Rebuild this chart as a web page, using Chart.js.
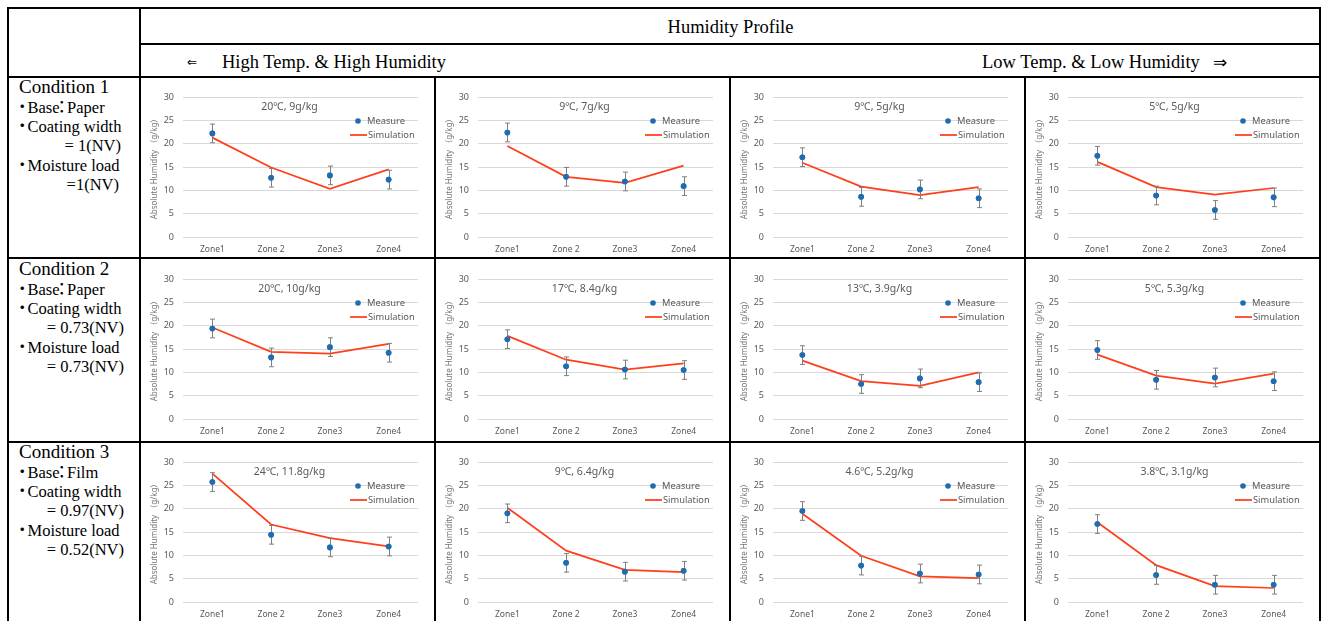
<!DOCTYPE html>
<html>
<head>
<meta charset="utf-8">
<script src="https://cdn.jsdelivr.net/npm/chart.js@4.4.1/dist/chart.umd.min.js"></script>
<style>
  body { margin: 0; background: #fff; width: 1321px; height: 621px; overflow: hidden; position: relative;
         font-family: "Liberation Serif", "Times New Roman", "Noto Sans CJK JP", serif; color: #000; }
  .ln { position: absolute; background: #000; z-index: 5; }
  .cell { position: absolute; }
  .hdr { position: absolute; font-size: 18.5px; white-space: pre; }
  .cond { position: absolute; left: 19px; width: 105px; }
  .cond div { height: 19.6px; line-height: 19.6px; font-size: 16.5px; white-space: pre; }
  .cond .c1 { font-size: 19px; }
  .cond .eq { text-align: right; }
  .dot { display: inline-block; margin: 0 -3px 0 -5px; font-family: "Noto Sans CJK JP", sans-serif; }
  .col { display: inline-block; margin: 0 -3px 0 -6px; font-family: "Noto Sans CJK JP", sans-serif; }
</style>
</head>
<body>

<!-- table rules -->
<div class="ln" style="left:7px;top:7px;width:1314px;height:2px"></div>
<div class="ln" style="left:140px;top:43px;width:1181px;height:2px"></div>
<div class="ln" style="left:7px;top:76px;width:1314px;height:2px"></div>
<div class="ln" style="left:7px;top:257px;width:1314px;height:2px"></div>
<div class="ln" style="left:7px;top:441px;width:1314px;height:2px"></div>
<div class="ln" style="left:7px;top:7px;width:2px;height:614px"></div>
<div class="ln" style="left:139px;top:7px;width:2px;height:614px"></div>
<div class="ln" style="left:434px;top:77px;width:2px;height:544px"></div>
<div class="ln" style="left:729px;top:77px;width:2px;height:544px"></div>
<div class="ln" style="left:1024px;top:77px;width:2px;height:544px"></div>
<div class="ln" style="left:1319px;top:7px;width:2px;height:614px"></div>

<!-- header -->
<div class="hdr" style="left:140px;width:1181px;top:9px;line-height:36px;text-align:center">Humidity Profile</div>
<div class="hdr" style="left:187px;top:52px;font-size:12px;line-height:20px;font-family:'DejaVu Sans',sans-serif">⇐</div>
<div class="hdr" style="left:222px;top:51px;line-height:22px">High Temp. &amp; High Humidity</div>
<div class="hdr" style="left:982px;top:51px;line-height:22px">Low Temp. &amp; Low Humidity</div>
<div class="hdr" style="left:1213px;top:51px;line-height:22px;font-family:'DejaVu Sans',sans-serif;font-size:17px">⇒</div>

<!-- condition descriptions -->
<div class="cond" style="top:77px">
  <div class="c1">Condition 1</div>
  <div><span class="dot">・</span>Base<span class="col">：</span>Paper</div>
  <div><span class="dot">・</span>Coating width</div>
  <div class="eq" style="padding-right:3px">= 1(NV)</div>
  <div><span class="dot">・</span>Moisture load</div>
  <div class="eq" style="padding-right:5px">=1(NV)</div>
</div>
<div class="cond" style="top:259px">
  <div class="c1">Condition 2</div>
  <div><span class="dot">・</span>Base<span class="col">：</span>Paper</div>
  <div><span class="dot">・</span>Coating width</div>
  <div class="eq">= 0.73(NV)</div>
  <div><span class="dot">・</span>Moisture load</div>
  <div class="eq">= 0.73(NV)</div>
</div>
<div class="cond" style="top:442px">
  <div class="c1">Condition 3</div>
  <div><span class="dot">・</span>Base<span class="col">：</span>Film</div>
  <div><span class="dot">・</span>Coating width</div>
  <div class="eq">= 0.97(NV)</div>
  <div><span class="dot">・</span>Moisture load</div>
  <div class="eq">= 0.52(NV)</div>
</div>

<script>
const zones = ["Zone1", "Zone 2", "Zone3", "Zone4"];
const yTicks = [0, 5, 10, 15, 20, 25, 30];
const errorHalf = [2, 2, 2, 2];

// Condition 1 : paper, width 1(NV), load 1(NV)
const c1Labels = ["20℃, 9g/kg", "9℃, 7g/kg", "9℃, 5g/kg", "5℃, 5g/kg"];
const c1Measure = [
  [22.2, 12.7, 13.2, 12.3],
  [22.4, 12.9, 11.9, 10.9],
  [17.1, 8.6, 10.2, 8.3],
  [17.4, 8.9, 5.8, 8.5]
];
const c1Sim = [
  [21.3, 14.9, 10.3, 14.5],
  [19.5, 12.9, 11.6, 15.3],
  [15.9, 10.8, 9.0, 10.7],
  [16.1, 10.7, 9.1, 10.5]
];

// Condition 2 : paper, width 0.73(NV), load 0.73(NV)
const c2Labels = ["20℃, 10g/kg", "17℃, 8.4g/kg", "13℃, 3.9g/kg", "5℃, 5.3g/kg"];
const c2Measure = [
  [19.4, 13.2, 15.4, 14.2],
  [17.1, 11.3, 10.6, 10.5],
  [13.7, 7.5, 8.7, 7.9],
  [14.8, 8.4, 8.9, 8.1]
];
const c2Sim = [
  [19.6, 14.4, 14.0, 16.1],
  [17.8, 12.7, 10.6, 11.9],
  [12.5, 8.1, 7.1, 10.0],
  [13.8, 9.3, 7.6, 9.7]
];

// Condition 3 : film, width 0.97(NV), load 0.52(NV)
const c3Labels = ["24℃, 11.8g/kg", "9℃, 6.4g/kg", "4.6℃, 5.2g/kg", "3.8℃, 3.1g/kg"];
const c3Measure = [
  [25.7, 14.4, 11.7, 11.9],
  [19.0, 8.4, 6.5, 6.7],
  [19.5, 7.8, 6.1, 5.9],
  [16.7, 5.8, 3.7, 3.7]
];
const c3Sim = [
  [27.5, 16.6, 13.7, 11.9],
  [20.2, 11.0, 6.9, 6.4],
  [18.9, 9.9, 5.5, 5.1],
  [17.1, 7.9, 3.4, 3.0]
];

const BLUE = "#1f6cb0";
const RED = "#ff3f1a";
const GREY = "#595959";
const SANS = "'Noto Sans', 'Noto Sans CJK JP', sans-serif";

// +/- bars around each measured point
const errorBars = {
  id: "errorBars",
  afterDatasetsDraw(chart) {
    const ctx = chart.ctx;
    const y = chart.scales.y;
    const ds = chart.data.datasets[0];
    const meta = chart.getDatasetMeta(0);
    ctx.save();
    ctx.strokeStyle = "#7f7f7f";
    ctx.lineWidth = 1;
    meta.data.forEach((pt, i) => {
      const x = Math.round(pt.x) + 0.5;
      const top = y.getPixelForValue(ds.data[i] + ds.errors[i]);
      const bot = y.getPixelForValue(ds.data[i] - ds.errors[i]);
      ctx.beginPath();
      ctx.moveTo(x, top); ctx.lineTo(x, bot);
      ctx.moveTo(x - 2.5, top); ctx.lineTo(x + 2.5, top);
      ctx.moveTo(x - 2.5, bot); ctx.lineTo(x + 2.5, bot);
      ctx.stroke();
    });
    ctx.restore();
    // markers sit on top of the bars
    meta.data.forEach(pt => pt.draw(ctx, chart.chartArea));
  }
};

// condition caption and the small legend inside the plot
const panelText = {
  id: "panelText",
  afterDraw(chart, args, opts) {
    const { ctx, chartArea: a } = chart;
    ctx.save();
    ctx.fillStyle = GREY;
    ctx.textBaseline = "middle";
    ctx.textAlign = "center";
    ctx.font = "10.5px " + SANS;
    ctx.fillText(opts.caption, (a.left + a.right) / 2 - 11, a.top + 10);

    const [m, s] = chart.data.datasets;
    const mx = a.right - 60;
    const y1 = a.top + 24, y2 = a.top + 38;
    ctx.font = "9.3px " + SANS;
    ctx.textAlign = "left";
    ctx.fillStyle = m.backgroundColor;
    ctx.beginPath();
    ctx.arc(mx, y1, 2.8, 0, Math.PI * 2);
    ctx.fill();
    ctx.strokeStyle = s.borderColor;
    ctx.lineWidth = s.borderWidth;
    ctx.beginPath();
    ctx.moveTo(mx - 8, y2); ctx.lineTo(mx + 9, y2);
    ctx.stroke();
    ctx.fillStyle = GREY;
    ctx.fillText(m.label, mx + 9, y1);
    ctx.fillText(s.label, mx + 10, y2);
    ctx.restore();
  }
};

function makePanel(left, top, caption, measure, sim) {
  const box = document.createElement("div");
  box.className = "cell";
  box.style.left = left + "px";
  box.style.top = top + "px";
  const cv = document.createElement("canvas");
  cv.width = 293;
  cv.height = 180;
  box.appendChild(cv);
  document.body.appendChild(box);

  new Chart(cv, {
    type: "line",
    data: {
      labels: zones,
      datasets: [
        {
          label: "Measure",
          data: measure,
          errors: errorHalf,
          showLine: false,
          pointRadius: 2.8,
          pointHoverRadius: 2.8,
          pointBorderWidth: 0,
          backgroundColor: BLUE,
          borderColor: BLUE
        },
        {
          label: "Simulation",
          data: sim,
          borderColor: RED,
          backgroundColor: RED,
          borderWidth: 1.75,
          pointRadius: 0,
          tension: 0
        }
      ]
    },
    options: {
      responsive: false,
      animation: false,
      events: [],
      layout: { padding: { top: 19, right: 16, left: 0, bottom: 0 } },
      plugins: {
        legend: { display: false },
        tooltip: { enabled: false },
        panelText: { caption: caption }
      },
      scales: {
        x: {
          offset: true,
          grid: { display: false, drawTicks: false },
          border: { display: false },
          ticks: { color: GREY, font: { size: 8.5, family: SANS }, padding: 7, maxRotation: 0 },
          afterFit: s => { s.height = 21; }
        },
        y: {
          min: 0,
          max: 30,
          afterBuildTicks: s => { s.ticks = yTicks.map(v => ({ value: v })); },
          grid: { color: "#d9d9d9", drawTicks: false, lineWidth: 1 },
          border: { display: false },
          ticks: { color: GREY, font: { size: 9, family: SANS }, padding: 9 },
          title: {
            display: true,
            text: "Absolute Humidity （g/kg）",
            color: "#767676",
            font: { size: 8, family: SANS },
            padding: { top: 9, bottom: 0 }
          },
          afterFit: s => { s.width = 42; }
        }
      }
    },
    plugins: [errorBars, panelText]
  });
}

const colLeft = [141, 436, 731, 1026];
const rowTop = [78, 260, 443];
const rows = [
  [c1Labels, c1Measure, c1Sim],
  [c2Labels, c2Measure, c2Sim],
  [c3Labels, c3Measure, c3Sim]
];
rows.forEach(([labels, measure, sim], r) => {
  labels.forEach((cap, c) => makePanel(colLeft[c], rowTop[r], cap, measure[c], sim[c]));
});
</script>
</body>
</html>
